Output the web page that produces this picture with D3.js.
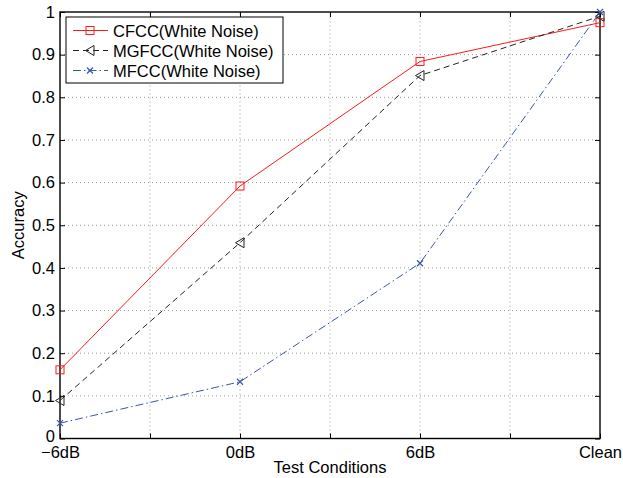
<!DOCTYPE html>
<html>
<head>
<meta charset="utf-8">
<script src="https://cdn.jsdelivr.net/npm/d3@7"></script>
<style>
  body { margin: 0; background: #fff; }
  text { font-family: "Liberation Sans", Arial, sans-serif; }
</style>
</head>
<body>
<script>
const conditions = ["\u22126dB", "0dB", "6dB", "Clean"];
const cfcc = [0.161, 0.592, 0.884, 0.975];
const mgfcc = [0.089, 0.459, 0.851, 0.99];
const mfcc = [0.036, 0.133, 0.411, 1.0];
const yTicks = [0, 0.1, 0.2, 0.3, 0.4, 0.5, 0.6, 0.7, 0.8, 0.9, 1];
const xTicks = [0, 0.5, 1, 1.5, 2, 2.5, 3];

const width = 623, height = 478;
const margin = {left: 60, right: 23, top: 12, bottom: 40};
const fontSize = 16.5;

const svg = d3.select("body").append("svg")
    .attr("width", width)
    .attr("height", height);

const x = d3.scaleLinear().domain([0, 3]).range([margin.left, width - margin.right]);
const y = d3.scaleLinear().domain([0, 1]).range([height - margin.bottom + 0.5, margin.top]);

// grid
svg.append("g").selectAll("line")
    .data(yTicks.slice(1, -1))
    .join("line")
    .attr("x1", x(0)).attr("x2", x(3))
    .attr("y1", d => y(d)).attr("y2", d => y(d))
    .attr("stroke", "#999").attr("stroke-width", 1)
    .attr("stroke-dasharray", "1,3");
svg.append("g").selectAll("line")
    .data(xTicks.slice(1, -1))
    .join("line")
    .attr("x1", d => x(d)).attr("x2", d => x(d))
    .attr("y1", y(0)).attr("y2", y(1))
    .attr("stroke", "#999").attr("stroke-width", 1)
    .attr("stroke-dasharray", "1,3");

// axes, matlab-style inward ticks
const tickLen = 5;
const fmtY = d => d === 0 || d === 1 ? d3.format("d")(d) : d3.format(".1f")(d);

svg.append("g")
    .attr("transform", `translate(${x(0)},0)`)
    .call(d3.axisLeft(y).tickValues(yTicks).tickFormat(fmtY).tickSizeInner(-tickLen).tickSizeOuter(0).tickPadding(5))
    .call(g => g.select(".domain").remove())
    .call(g => g.selectAll(".tick text").filter(d => d === 0).attr("dy", "0.2em"));
svg.append("g")
    .attr("transform", `translate(${x(3)},0)`)
    .call(d3.axisRight(y).tickValues(yTicks).tickFormat("").tickSizeInner(-tickLen).tickSizeOuter(0))
    .call(g => g.select(".domain").remove());
svg.append("g")
    .attr("transform", `translate(0,${y(0)})`)
    .call(d3.axisBottom(x).tickValues(xTicks)
        .tickFormat(d => Number.isInteger(d) ? conditions[d] : "")
        .tickSizeInner(-tickLen).tickSizeOuter(0).tickPadding(8))
    .call(g => g.select(".domain").remove());
svg.append("g")
    .attr("transform", `translate(0,${y(1)})`)
    .call(d3.axisTop(x).tickValues(xTicks).tickFormat("").tickSizeInner(-tickLen).tickSizeOuter(0))
    .call(g => g.select(".domain").remove());

svg.selectAll(".tick text").attr("font-size", fontSize).attr("fill", "#000")
    .attr("font-family", "'Liberation Sans', Arial, sans-serif");
svg.selectAll(".tick line").attr("stroke", "#000");

svg.append("rect")
    .attr("x", x(0)).attr("y", y(1))
    .attr("width", x(3) - x(0)).attr("height", y(0) - y(1))
    .attr("fill", "none").attr("stroke", "#000").attr("stroke-width", 1.4);

// labels
svg.append("text")
    .attr("x", (x(0) + x(3)) / 2).attr("y", 473)
    .attr("text-anchor", "middle").attr("font-size", fontSize)
    .text("Test Conditions");
svg.append("text")
    .attr("transform", `translate(24,${(y(0) + y(1)) / 2}) rotate(-90)`)
    .attr("text-anchor", "middle").attr("font-size", fontSize)
    .text("Accuracy");

// series
const series = [
  {name: "CFCC(White Noise)", values: cfcc, color: "#ff1a1a", dash: null, marker: "square"},
  {name: "MGFCC(White Noise)", values: mgfcc, color: "#222", dash: "6,4", marker: "triangle"},
  {name: "MFCC(White Noise)", values: mfcc, color: "#3a56a8", dash: "8,3,1.5,3", marker: "cross"}
];

const line = d3.line().x((d, i) => x(i)).y(d => y(d));

function drawMarker(g, type, cx, cy, color) {
  if (type === "square") {
    g.append("rect").attr("x", cx - 4).attr("y", cy - 4).attr("width", 8).attr("height", 8)
      .attr("fill", "none").attr("stroke", color).attr("stroke-width", 1);
  } else if (type === "triangle") {
    g.append("path").attr("d", `M${cx - 4.5},${cy} L${cx + 4},${cy - 5} L${cx + 4},${cy + 5} Z`)
      .attr("fill", "none").attr("stroke", color).attr("stroke-width", 1);
  } else {
    g.append("path").attr("d", `M${cx - 3},${cy - 3} L${cx + 3},${cy + 3} M${cx - 3},${cy + 3} L${cx + 3},${cy - 3}`)
      .attr("stroke", color).attr("stroke-width", 1.2);
  }
}

series.forEach(s => {
  const g = svg.append("g");
  g.append("path").datum(s.values)
    .attr("d", line)
    .attr("fill", "none")
    .attr("stroke", s.color).attr("stroke-width", 1)
    .attr("stroke-dasharray", s.dash);
  s.values.forEach((v, i) => drawMarker(g, s.marker, x(i), y(v), s.color));
});

// legend
const legend = svg.append("g").attr("transform", "translate(66,17)");
legend.append("rect").attr("width", 217).attr("height", 66)
  .attr("fill", "#fff").attr("stroke", "#000").attr("stroke-width", 1);
series.forEach((s, i) => {
  const ly = 13.5 + i * 20;
  legend.append("line").attr("x1", 7).attr("x2", 42).attr("y1", ly).attr("y2", ly)
    .attr("stroke", s.color).attr("stroke-width", 1).attr("stroke-dasharray", s.dash);
  drawMarker(legend, s.marker, 24, ly, s.color);
  legend.append("text").attr("x", 47).attr("y", ly + 6).attr("font-size", fontSize).text(s.name);
});
</script>
</body>
</html>
